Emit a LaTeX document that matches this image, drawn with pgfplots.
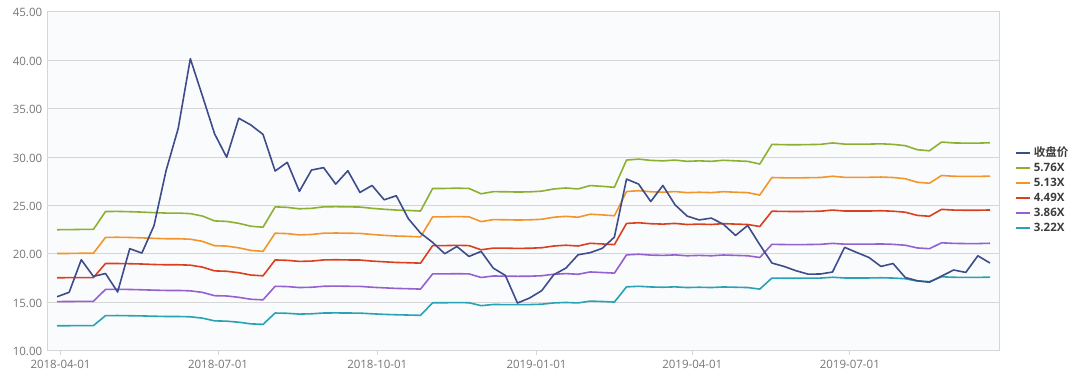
\documentclass[border=0pt]{standalone}
\usepackage{pgfplots}
\usepackage{pgfplotstable}
\pgfplotsset{compat=1.18}
\usepackage{fontspec}
\setmainfont{Open Sans}
\newfontfamily\cjk{Noto Sans CJK SC}[BoldFont={Noto Sans CJK SC Bold}]
\definecolor{cclose}{HTML}{3E4C8A}
\definecolor{cg}{HTML}{8DB030}
\definecolor{co}{HTML}{F2962C}
\definecolor{cr}{HTML}{D8401E}
\definecolor{cp}{HTML}{9561CF}
\definecolor{cc}{HTML}{2AA2B6}
\definecolor{tickgray}{HTML}{767676}
\definecolor{gridgray}{HTML}{D6D6D6}
\definecolor{leggray}{HTML}{3C3C3C}
\definecolor{plotbg}{HTML}{FAFBFD}

\pgfplotstableread{
x close g o r p c
-2 15.57 22.49 20.03 17.53 15.07 12.57
5 16.03 22.50 20.04 17.54 15.08 12.58
12 19.39 22.52 20.06 17.55 15.09 12.59
19 17.67 22.52 20.06 17.55 15.09 12.59
26 17.97 24.37 21.70 19.00 16.33 13.62
33 16.06 24.38 21.71 19.00 16.34 13.63
40 20.53 24.35 21.69 18.98 16.32 13.61
47 20.08 24.31 21.65 18.95 16.29 13.59
54 22.90 24.25 21.60 18.90 16.25 13.56
61 28.60 24.21 21.56 18.87 16.22 13.53
68 32.95 24.21 21.56 18.87 16.22 13.53
75 40.15 24.15 21.51 18.83 16.18 13.50
82 36.30 23.90 21.29 18.63 16.02 13.36
89 32.40 23.40 20.84 18.24 15.68 13.08
96 29.97 23.35 20.80 18.20 15.65 13.05
103 34.00 23.15 20.62 18.05 15.51 12.94
110 33.30 22.85 20.35 17.81 15.31 12.77
117 32.33 22.75 20.26 17.73 15.25 12.72
124 28.55 24.85 22.13 19.37 16.65 13.89
131 29.45 24.80 22.09 19.33 16.62 13.86
138 26.45 24.65 21.95 19.22 16.52 13.78
145 28.65 24.70 22.00 19.25 16.55 13.81
152 28.90 24.85 22.13 19.37 16.65 13.89
159 27.20 24.87 22.15 19.39 16.67 13.90
166 28.58 24.85 22.13 19.37 16.65 13.89
173 26.34 24.83 22.11 19.36 16.64 13.88
180 27.06 24.70 22.00 19.25 16.55 13.81
187 25.58 24.60 21.91 19.18 16.49 13.75
194 26.00 24.52 21.84 19.11 16.43 13.71
201 23.62 24.48 21.80 19.08 16.40 13.68
208 22.14 24.42 21.75 19.04 16.36 13.65
215 21.18 26.75 23.82 20.85 17.93 14.95
222 20.01 26.75 23.82 20.85 17.93 14.95
229 20.76 26.78 23.85 20.88 17.95 14.97
236 19.73 26.75 23.82 20.85 17.93 14.95
243 20.25 26.20 23.33 20.42 17.56 14.65
250 18.53 26.42 23.53 20.59 17.71 14.77
257 17.77 26.41 23.52 20.59 17.70 14.76
264 14.92 26.38 23.49 20.56 17.68 14.75
271 15.44 26.40 23.51 20.58 17.69 14.76
278 16.20 26.47 23.57 20.63 17.74 14.80
285 17.85 26.70 23.78 20.81 17.89 14.93
292 18.53 26.80 23.87 20.89 17.96 14.98
299 19.90 26.70 23.78 20.81 17.89 14.93
306 20.12 27.05 24.09 21.09 18.13 15.12
313 20.57 26.97 24.02 21.02 18.07 15.08
320 21.73 26.87 23.93 20.95 18.01 15.02
327 27.72 29.68 26.43 23.14 19.89 16.59
334 27.20 29.78 26.52 23.21 19.96 16.65
341 25.40 29.65 26.41 23.11 19.87 16.58
348 27.06 29.60 26.36 23.07 19.84 16.55
355 25.07 29.68 26.43 23.14 19.89 16.59
362 23.90 29.55 26.32 23.03 19.80 16.52
369 23.50 29.60 26.36 23.07 19.84 16.55
376 23.69 29.55 26.32 23.03 19.80 16.52
383 23.05 29.66 26.42 23.12 19.88 16.58
390 21.90 29.60 26.36 23.07 19.84 16.55
397 22.93 29.55 26.32 23.03 19.80 16.52
404 20.94 29.27 26.07 22.82 19.62 16.36
411 19.05 31.30 27.88 24.40 20.98 17.50
418 18.70 31.27 27.85 24.38 20.96 17.48
425 18.25 31.26 27.84 24.37 20.95 17.48
432 17.90 31.28 27.86 24.38 20.96 17.49
439 17.92 31.30 27.88 24.40 20.98 17.50
446 18.12 31.45 28.01 24.52 21.08 17.58
453 20.67 31.33 27.90 24.42 21.00 17.51
460 20.14 31.33 27.90 24.42 21.00 17.51
467 19.63 31.33 27.90 24.42 21.00 17.51
474 18.70 31.36 27.93 24.45 21.02 17.53
481 19.00 31.30 27.88 24.40 20.98 17.50
488 17.56 31.17 27.76 24.30 20.89 17.43
495 17.22 30.75 27.39 23.97 20.61 17.19
502 17.07 30.64 27.29 23.88 20.53 17.13
509 17.70 31.54 28.09 24.59 21.14 17.63
516 18.33 31.45 28.01 24.52 21.08 17.58
523 18.08 31.43 27.99 24.50 21.06 17.57
530 19.80 31.43 27.99 24.50 21.06 17.57
537 19.05 31.47 28.03 24.53 21.09 17.59
}\datatable

\begin{document}
\begin{tikzpicture}
\path[use as bounding box] (0,0) rectangle (1080pt,377pt);
\begin{axis}[
  at={(47.7pt,26.3pt)}, anchor=south west,
  scale only axis, width=951.3pt, height=339pt,
  xmin=-7.4, xmax=542.2, ymin=10, ymax=45,
  axis background/.style={fill=plotbg},
  axis line style={draw=gridgray, line width=0.8pt},
  ytick={10,15,...,45},
  /pgf/number format/assume math mode=true,
  yticklabel style={/pgf/number format/fixed, /pgf/number format/fixed zerofill, /pgf/number format/precision=2, xshift=-2pt, yshift=-1pt},
  ytick style={draw=none},
  ymajorgrids, grid style={gridgray, line width=0.9pt},
  xtick={0,91,183,275,365,456},
  xticklabels={2018-04-01,2018-07-01,2018-10-01,2019-01-01,2019-04-01,2019-07-01},
  xtick align=outside, major tick length=4pt,
  xtick style={draw=gridgray, line width=0.8pt},
  xtick pos=bottom,
  xticklabel style={yshift=-1.5pt},
  tick label style={font=\fontsize{11.5}{13}\selectfont, text=tickgray},
  every axis plot/.append style={line width=1.6pt, line join=round, mark=none},
  legend cell align=left,
  legend style={at={(1.0165,0.605)}, anchor=north west, draw=none, fill=none,
    font=\fontsize{11.5}{13}\selectfont\bfseries, text=leggray,
    row sep=0pt, inner sep=0pt,
    nodes={inner ysep=2.25pt, inner xsep=3pt, text height=8.5pt, text depth=2pt}},
  legend image code/.code={\draw[#1, line width=2pt] (0pt,0pt) -- (14pt,0pt);},
]
\addlegendimage{cclose}
\addlegendentry{\cjk\bfseries 收盘价}
\addplot[cg] table[x=x, y=g] {\datatable};
\addlegendentry{5.76X}
\addplot[co] table[x=x, y=o] {\datatable};
\addlegendentry{5.13X}
\addplot[cr] table[x=x, y=r] {\datatable};
\addlegendentry{4.49X}
\addplot[cp] table[x=x, y=p] {\datatable};
\addlegendentry{3.86X}
\addplot[cc] table[x=x, y=c] {\datatable};
\addlegendentry{3.22X}
\addplot[cclose, forget plot] table[x=x, y=close] {\datatable};
\end{axis}
\end{tikzpicture}
\end{document}
